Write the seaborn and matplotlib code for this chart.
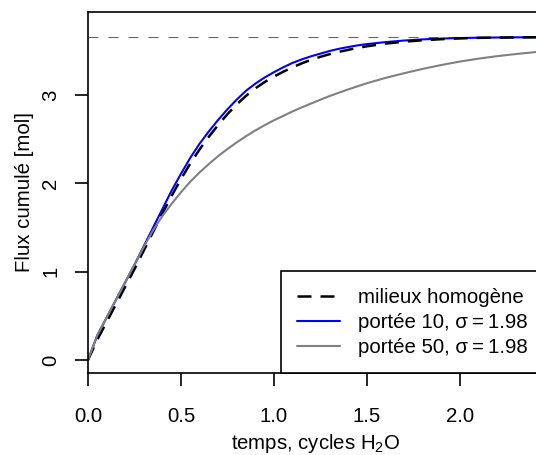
import numpy as np
import pandas as pd
import matplotlib
matplotlib.use('Agg')
import matplotlib.pyplot as plt
import seaborn as sns

# cumulated flux (time in H2O cycles)
temps = [0.0, 0.05, 0.1, 0.15, 0.2, 0.25, 0.3, 0.35, 0.4, 0.45, 0.5, 0.55, 0.6, 0.65, 0.7, 0.75,
         0.8, 0.85, 0.9, 0.95, 1.0, 1.05, 1.1, 1.15, 1.2, 1.25, 1.3, 1.35, 1.4, 1.45, 1.5,
         1.6, 1.7, 1.8, 1.9, 2.0, 2.1, 2.2, 2.3, 2.4, 2.5, 2.6]
flux_homogene = [0.0, 0.23, 0.43, 0.63, 0.83, 1.03, 1.24, 1.45, 1.66, 1.86, 2.05, 2.225, 2.385, 2.53, 2.662, 2.785,
                 2.895, 2.992, 3.077, 3.148, 3.21, 3.265, 3.315, 3.36, 3.40, 3.434, 3.464, 3.49, 3.513, 3.534, 3.553,
                 3.583, 3.605, 3.621, 3.633, 3.642, 3.648, 3.651, 3.653, 3.655, 3.655, 3.655]
flux_portee10 = [0.0, 0.28, 0.48, 0.68, 0.88, 1.08, 1.29, 1.50, 1.71, 1.92, 2.11, 2.29, 2.45, 2.59, 2.72, 2.84,
                 2.95, 3.05, 3.13, 3.20, 3.26, 3.315, 3.365, 3.405, 3.44, 3.47, 3.50, 3.525, 3.545, 3.563, 3.578,
                 3.60, 3.618, 3.631, 3.64, 3.646, 3.65, 3.652, 3.654, 3.655, 3.655, 3.655]
flux_portee50 = [0.0, 0.28, 0.48, 0.68, 0.88, 1.08, 1.28, 1.47, 1.63, 1.77, 1.90, 2.02, 2.125, 2.22, 2.31, 2.39,
                 2.465, 2.535, 2.60, 2.66, 2.715, 2.765, 2.815, 2.862, 2.905, 2.948, 2.99, 3.028, 3.065, 3.10, 3.135,
                 3.195, 3.248, 3.297, 3.341, 3.38, 3.413, 3.441, 3.465, 3.486, 3.505, 3.522]
plateau = 3.655

labels = ['milieux homogène',
          'portée 10, σ\u2009=\u20091.98',
          'portée 50, σ\u2009=\u20091.98']

sns.set_style('ticks')
plt.rcParams['font.family'] = ['Liberation Sans', 'DejaVu Sans']
plt.rcParams['text.color'] = 'black'
plt.rcParams['mathtext.fontset'] = 'custom'
plt.rcParams['mathtext.rm'] = 'Liberation Sans'
plt.rcParams['mathtext.it'] = 'Liberation Sans:italic'
plt.rcParams['mathtext.bf'] = 'Liberation Sans:bold'
FS = 14.7

df = pd.DataFrame({'temps': temps, 'homogene': flux_homogene,
                   'p10': flux_portee10, 'p50': flux_portee50})

fig = plt.figure(figsize=(5.36, 4.55), dpi=100)
# axes run past the right edge of the picture, like the cropped original
W = 472
ax = fig.add_axes([88 / 536, 82 / 455, W / 536, 361 / 455])

ax.axhline(plateau, color='#666666', linewidth=0.8, linestyle=(0, (9.0, 9.0)))
sns.lineplot(data=df, x='temps', y='p10', ax=ax, color='#0000ff', linewidth=1.5, label=labels[1])
sns.lineplot(data=df, x='temps', y='homogene', ax=ax, color='black', linewidth=1.8,
             linestyle=(0, (5.6, 3.6)), label=labels[0])
sns.lineplot(data=df, x='temps', y='p50', ax=ax, color='#808080', linewidth=1.5, label=labels[2])

ax.set_xlim(0, W / 186)
ax.set_ylim(-0.147, 3.941)
ax.set_xticks([0, 0.5, 1.0, 1.5, 2.0])
ax.set_xticklabels(['0.0', '0.5', '1.0', '1.5', '2.0'])
ax.set_yticks([0, 1, 2, 3])
ax.set_yticklabels(['0', '1', '2', '3'])
for lab in ax.get_yticklabels():
    lab.set_rotation(90)
    lab.set_va('center')

for s in ax.spines.values():
    s.set_linewidth(1.2)
    s.set_color('black')
ax.tick_params(axis='both', length=9.4, width=1.2, color='black', labelsize=FS, labelcolor='black')
ax.tick_params(axis='x', pad=15)
ax.tick_params(axis='y', pad=10.5)

ax.set_xlabel('temps, cycles H$_2$O', fontsize=FS, color='black')
ax.set_ylabel('Flux cumulé [mol]', fontsize=FS, color='black')
ax.xaxis.set_label_coords((316 - 88) / W, (373 - 432) / 361)
ax.yaxis.set_label_coords((34 - 88) / W, 0.5)

handles, labs = ax.get_legend_handles_labels()
order = [labs.index(l) for l in labels]
leg = ax.legend([handles[i] for i in order], [labs[i] for i in order],
                loc='lower left', bbox_to_anchor=((281 - 88) / W, 0), fontsize=FS,
                frameon=True, fancybox=False, edgecolor='black', framealpha=1,
                borderpad=0.8, borderaxespad=0, handlelength=2.08, handletextpad=0.91,
                labelspacing=0.29)
leg.get_frame().set_linewidth(1.2)
for txt in leg.get_texts():
    txt.set_color('black')

fig.savefig('out.png', dpi=100)
